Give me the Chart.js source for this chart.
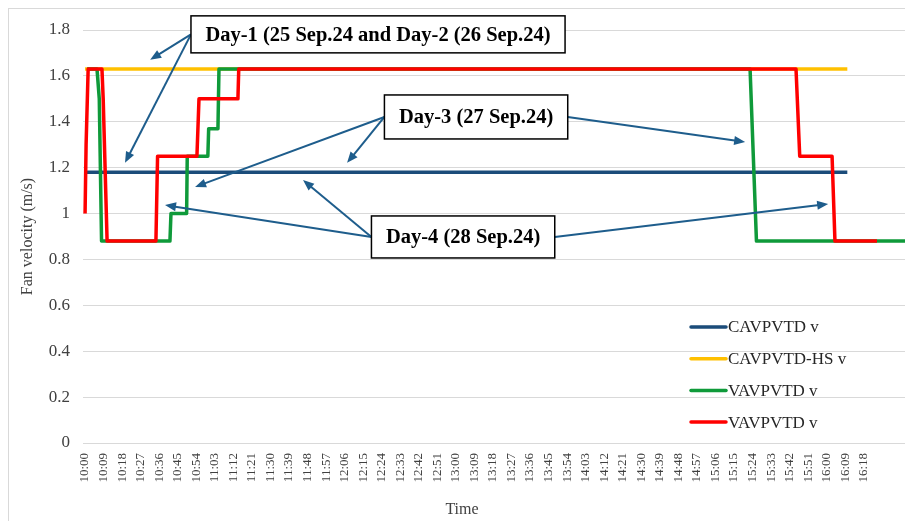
<!DOCTYPE html>
<html>
<head>
<meta charset="utf-8">
<script src="https://cdn.jsdelivr.net/npm/chart.js@4.4.1/dist/chart.umd.min.js"></script>
<style>
  body { margin: 0; background: #fff; }
  canvas { display: block; }
</style>
</head>
<body>
<canvas id="chart-1" width="905" height="521"></canvas>
<script>
// x values are minutes after 10:00
const tickLabels = ['10:00', '10:09', '10:18', '10:27', '10:36', '10:45', '10:54', '11:03', '11:12', '11:21',
  '11:30', '11:39', '11:48', '11:57', '12:06', '12:15', '12:24', '12:33', '12:42', '12:51', '13:00', '13:09',
  '13:18', '13:27', '13:36', '13:45', '13:54', '14:03', '14:12', '14:21', '14:30', '14:39', '14:48', '14:57',
  '15:06', '15:15', '15:24', '15:33', '15:42', '15:51', '16:00', '16:09', '16:18']
const tickStep = 9

const seriesNames = ['CAVPVTD v', 'CAVPVTD-HS v', 'VAVPVTD v', 'VAVPVTD v']
const seriesColors = ['#1b4c7a', '#ffc000', '#0f9a3a', '#ff0000']

const cavMinutes = [0, 370]
const cavValues = [1.18, 1.18]
const cavHsMinutes = [0, 370]
const cavHsValues = [1.63, 1.63]
const vavGreenMinutes = [1, 5.8, 6.9, 8, 41.2, 41.7, 49.3, 49.6, 59.6, 60, 64.5, 65, 322.8, 325.9, 398]
const vavGreenValues = [1.63, 1.63, 1.5, 0.88, 0.88, 1.0, 1.0, 1.25, 1.25, 1.37, 1.37, 1.63, 1.63, 0.88, 0.88]
const vavRedMinutes = [0, 0.5, 1.5, 8.2, 8.8, 10.7, 34.4, 35.2, 54.3, 55.3, 74.2, 74.6, 345.1, 346.9, 362.6, 364, 384.4]
const vavRedValues = [1.0, 1.3, 1.63, 1.63, 1.5, 0.88, 0.88, 1.25, 1.25, 1.5, 1.5, 1.63, 1.63, 1.25, 1.25, 0.88, 0.88]

// call-out boxes: centre in (minutes, m/s), arrows point at (minutes, m/s)
const noteTexts = ['Day-1 (25 Sep.24 and Day-2 (26 Sep.24)', 'Day-3 (27 Sep.24)', 'Day-4 (28 Sep.24)']
const noteCenters = [[142.2, 1.781], [189.8, 1.421], [183.5, 0.898]]
const noteHeights = [37, 44, 42]
const noteArrows = [
  [['left', 31.6, 1.670], ['left', 19.4, 1.221]],
  [['left', 53.4, 1.116], ['left', 127.2, 1.221], ['right', 320.4, 1.312]],
  [['left', 38.8, 1.037], ['left', 105.8, 1.146], ['right', 360.7, 1.042]]
]

const serif = "'Liberation Serif', 'Times New Roman', serif"
const textColor = '#404040'
const arrowColor = '#1e5d8c'

const toPoints = (xs, ys) => xs.map((x, i) => ({ x, y: ys[i] }))

const drawArrow = (ctx, x1, y1, x2, y2) => {
  const ang = Math.atan2(y2 - y1, x2 - x1)
  const head = 11
  ctx.beginPath()
  ctx.moveTo(x1, y1)
  ctx.lineTo(x2 - Math.cos(ang) * head * 0.8, y2 - Math.sin(ang) * head * 0.8)
  ctx.stroke()
  ctx.beginPath()
  ctx.moveTo(x2, y2)
  ctx.lineTo(x2 - head * Math.cos(ang) + 4.5 * Math.sin(ang), y2 - head * Math.sin(ang) - 4.5 * Math.cos(ang))
  ctx.lineTo(x2 - head * Math.cos(ang) - 4.5 * Math.sin(ang), y2 - head * Math.sin(ang) + 4.5 * Math.cos(ang))
  ctx.closePath()
  ctx.fill()
}

const decorations = {
  id: 'decorations',
  beforeDraw(chart) {
    const ctx = chart.ctx
    ctx.save()
    ctx.fillStyle = '#fff'
    ctx.fillRect(0, 0, chart.width, chart.height)
    ctx.strokeStyle = '#d9d9d9'
    ctx.lineWidth = 1
    ctx.strokeRect(8.5, 8.5, chart.width + 20, chart.height + 20)
    ctx.restore()
  },
  afterDatasetsDraw(chart) {
    const { ctx, chartArea, scales: { x, y } } = chart
    ctx.save()

    // call-outs
    ctx.font = 'bold 20.5px ' + serif
    noteTexts.forEach((text, i) => {
      const cx = x.getPixelForValue(noteCenters[i][0])
      const cy = y.getPixelForValue(noteCenters[i][1])
      const w = ctx.measureText(text).width + 29
      const h = noteHeights[i]
      const left = cx - w / 2, right = cx + w / 2
      ctx.strokeStyle = arrowColor
      ctx.fillStyle = arrowColor
      ctx.lineWidth = 2
      noteArrows[i].forEach(([side, ax, ay]) => {
        drawArrow(ctx, side === 'left' ? left : right, cy, x.getPixelForValue(ax), y.getPixelForValue(ay))
      })
      ctx.fillStyle = '#fff'
      ctx.fillRect(left, cy - h / 2, w, h)
      ctx.strokeStyle = '#000'
      ctx.lineWidth = 1.5
      ctx.strokeRect(left, cy - h / 2, w, h)
      ctx.fillStyle = '#000'
      ctx.textAlign = 'center'
      ctx.textBaseline = 'middle'
      ctx.fillText(text, cx, cy + 1)
    })

    // legend inside the plot, bottom right
    ctx.font = '17px ' + serif
    ctx.textAlign = 'left'
    ctx.textBaseline = 'middle'
    const lx = chartArea.right - 214
    seriesNames.forEach((name, i) => {
      const ly = chartArea.bottom - 116 + i * 31.7
      ctx.strokeStyle = seriesColors[i]
      ctx.lineWidth = 3.5
      ctx.lineCap = 'round'
      ctx.beginPath()
      ctx.moveTo(lx, ly)
      ctx.lineTo(lx + 35, ly)
      ctx.stroke()
      ctx.fillStyle = '#262626'
      ctx.fillText(name, lx + 37, ly + 1)
    })

    // x axis title
    ctx.font = '16px ' + serif
    ctx.fillStyle = textColor
    ctx.textAlign = 'center'
    ctx.fillText('Time', chartArea.left + 379, chart.height - 11)
    ctx.restore()
  }
}

new Chart(document.getElementById('chart-1').getContext('2d'), {
  type: 'line',
  data: {
    datasets: [
      { label: seriesNames[0], data: toPoints(cavMinutes, cavValues), borderColor: seriesColors[0], order: 4 },
      { label: seriesNames[1], data: toPoints(cavHsMinutes, cavHsValues), borderColor: seriesColors[1], order: 3 },
      { label: seriesNames[2], data: toPoints(vavGreenMinutes, vavGreenValues), borderColor: seriesColors[2], order: 2 },
      { label: seriesNames[3], data: toPoints(vavRedMinutes, vavRedValues), borderColor: seriesColors[3], order: 1 }
    ]
  },
  options: {
    responsive: false,
    animation: false,
    devicePixelRatio: 1,
    layout: { padding: { left: 12, top: 30, right: 0, bottom: 0 } },
    plugins: { legend: { display: false }, tooltip: { enabled: false } },
    elements: { point: { radius: 0 }, line: { borderWidth: 3.5, tension: 0, borderJoinStyle: 'round' } },
    scales: {
      x: {
        type: 'linear',
        min: -1,
        max: 398,
        afterBuildTicks: s => { s.ticks = tickLabels.map((_, i) => ({ value: i * tickStep })) },
        afterFit: s => { s.height = 78 },
        grid: { display: false, drawTicks: false },
        border: { display: false },
        ticks: {
          autoSkip: false, minRotation: 90, maxRotation: 90, padding: 10,
          color: textColor, font: { family: serif, size: 13 },
          callback: (v, i) => tickLabels[i]
        }
      },
      y: {
        min: 0,
        max: 1.8,
        afterFit: s => { s.width = 71 },
        grid: { color: '#d9d9d9', drawTicks: false },
        border: { display: false },
        ticks: {
          stepSize: 0.2, padding: 13, color: textColor, font: { family: serif, size: 17 },
          callback: v => String(Number(v.toFixed(1)))
        },
        title: { display: true, text: 'Fan velocity (m/s)', color: textColor, font: { family: serif, size: 16 }, padding: { top: 6, bottom: 0 } }
      }
    }
  },
  plugins: [decorations]
})
</script>
</body>
</html>
